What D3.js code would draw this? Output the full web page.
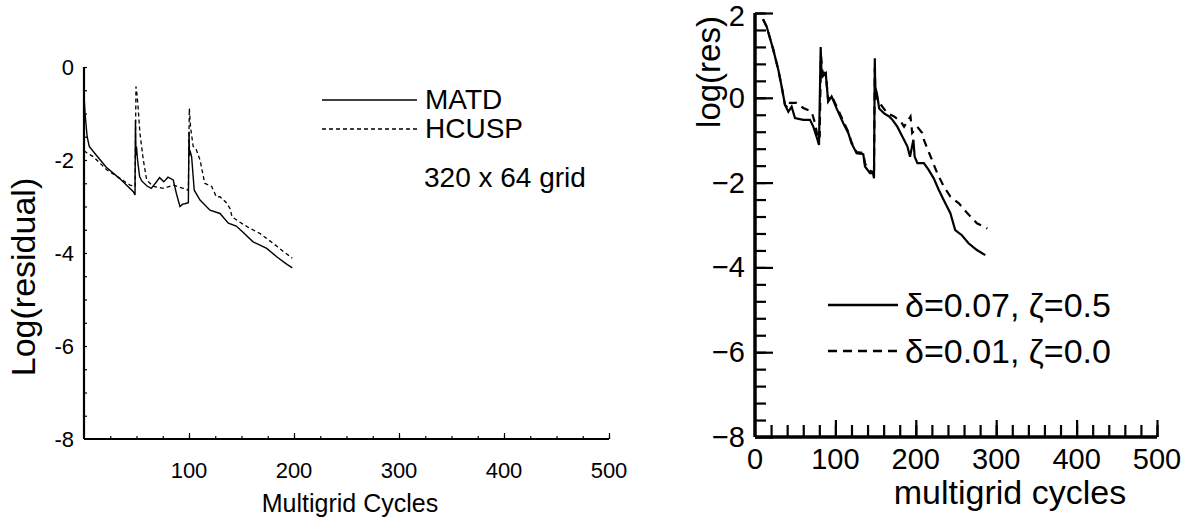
<!DOCTYPE html>
<html>
<head>
<meta charset="utf-8">
<script src="https://cdn.jsdelivr.net/npm/d3@7"></script>
<style>
  body { margin: 0; background: #fff; }
  svg { display: block; }
  text { font-family: "Liberation Sans", Arial, Helvetica, sans-serif; fill: #000; }
</style>
</head>
<body>
<div id="chart"></div>
<script>
// left panel: MATD vs HCUSP, 320 x 64 grid
var matdCycles = [0, 1, 3, 5, 10, 21, 34, 47, 48.6, 49, 49.5, 50, 51, 53, 55, 60, 64, 68, 72, 76, 80, 85, 88, 91.4, 94, 96, 99.4, 100, 100.5, 101, 102.5, 105, 110.5, 120, 129.5, 137.5, 145, 151.7, 161, 174, 183.5, 193, 198.4];
var matdRes = [-0.6, -1.0, -1.5, -1.71, -1.85, -2.15, -2.4, -2.68, -2.75, -1.14, -1.9, -1.71, -2.0, -2.36, -2.45, -2.56, -2.61, -2.5, -2.38, -2.47, -2.37, -2.43, -2.72, -3.0, -2.95, -2.94, -2.92, -1.39, -1.9, -1.8, -1.93, -2.65, -2.86, -3.08, -3.15, -3.36, -3.42, -3.56, -3.76, -3.9, -4.08, -4.24, -4.32];

var hcuspCycles = [0, 3, 9, 21.6, 34, 43.8, 48.6, 49.5, 50.5, 51.7, 53.3, 56.5, 59.7, 66, 75.5, 85, 94.6, 99.4, 100.3, 101.5, 104, 107, 110.5, 115, 121.6, 126, 129.5, 133, 136, 139, 141, 148.6, 158, 167.6, 180, 190, 198.4];
var hcuspRes = [-1.8, -1.85, -1.93, -2.21, -2.39, -2.54, -2.57, -0.42, -0.6, -0.92, -1.43, -2.0, -2.43, -2.57, -2.61, -2.54, -2.61, -2.65, -0.89, -1.3, -1.71, -1.78, -2.0, -2.5, -2.57, -2.79, -2.79, -2.86, -2.93, -3.04, -3.22, -3.34, -3.47, -3.58, -3.79, -3.97, -4.11];

var leftXTicks = [100, 200, 300, 400, 500];
var leftYTicks = [0, -2, -4, -6, -8];
var leftLegend = ["MATD", "HCUSP"];
var leftNote = "320 x 64 grid";

// right panel: two (delta, zeta) settings
var solidCycles = [10, 14.5, 22.8, 29, 33.2, 37.3, 41.5, 45.6, 49.7, 60, 68.4, 72.5, 76.6, 79.6, 81.7, 82.5, 84, 88, 91, 95.3, 101.5, 109.8, 116, 120, 126.4, 134.7, 136.8, 143, 147, 148, 149, 149.5, 152.3, 154.4, 160.6, 166.8, 171, 177, 183.4, 189.6, 192.8, 197, 198.6, 202, 210, 216, 222.3, 228.5, 234.7, 243, 249, 257.3, 265.6, 276, 286.4];
var solidRes = [1.85, 1.68, 1.13, 0.66, 0.26, -0.17, -0.33, -0.21, -0.48, -0.52, -0.52, -0.68, -0.92, -1.11, 1.2, 0.7, 0.5, 0.58, -0.09, 0.03, -0.25, -0.6, -0.83, -1.07, -1.31, -1.33, -1.62, -1.78, -1.78, -1.9, 0.93, 0.27, 0.03, -0.25, -0.37, -0.44, -0.52, -0.68, -0.92, -1.15, -1.39, -0.99, -1.39, -1.54, -1.54, -1.7, -1.9, -2.17, -2.41, -2.72, -3.12, -3.24, -3.43, -3.59, -3.71];

var dashedCycles = [10, 14.5, 22.8, 29, 33.2, 37.3, 41.5, 43.5, 51.8, 60, 70.5, 74.6, 78.8, 80.5, 82, 84, 88, 91, 95.3, 101.5, 109.8, 116, 120, 126.4, 134.7, 136.8, 143, 147, 148, 149, 149.5, 152, 164.8, 173, 181.3, 185.4, 193.4, 195.5, 201.8, 208, 210, 218.5, 226.7, 235, 243, 253.6, 264, 276, 289];
var dashedRes = [1.85, 1.68, 1.13, 0.66, 0.26, -0.17, -0.25, -0.12, -0.12, -0.24, -0.33, -0.6, -1.0, -0.9, 1.0, 0.6, 0.58, -0.05, 0.05, -0.2, -0.55, -0.8, -1.05, -1.28, -1.3, -1.55, -1.72, -1.75, -1.85, 0.7, 0.3, -0.05, -0.37, -0.44, -0.56, -0.68, -0.44, -0.83, -0.68, -0.83, -0.99, -1.39, -1.78, -2.1, -2.33, -2.49, -2.72, -2.96, -3.08];

var rightXTicks = [0, 100, 200, 300, 400, 500];
var rightYTicks = [2, 0, -2, -4, -6, -8];
var rightLegend = ["\u03b4=0.07, \u03b6=0.5", "\u03b4=0.01, \u03b6=0.0"];

function zip(xs, ys) {
  return xs.map(function(x, i) { return [x, ys[i]]; });
}

var svg = d3.select("#chart").append("svg")
    .attr("width", 1204)
    .attr("height", 521);

// ---------- left panel ----------
var lx = d3.scaleLinear().domain([0, 500]).range([84, 609]);
var ly = d3.scaleLinear().domain([-8, 0]).range([439, 67]);

var left = svg.append("g");

// minor ticks every 25 cycles / 0.5 decades, pointing inward
left.append("g")
    .attr("transform", "translate(0," + ly(-8) + ")")
    .call(d3.axisTop(lx).tickValues(d3.range(25, 501, 25)).tickSize(3).tickFormat(""))
    .call(function(g) { g.select(".domain").remove(); });
left.append("g")
    .attr("transform", "translate(0," + ly(-8) + ")")
    .call(d3.axisTop(lx).tickValues(leftXTicks).tickSize(6).tickFormat(""))
    .call(function(g) { g.select(".domain").remove(); });
left.append("g")
    .attr("transform", "translate(" + lx(0) + ",0)")
    .call(d3.axisRight(ly).tickValues(d3.range(-7.5, 0.01, 0.5)).tickSize(3).tickFormat(""))
    .call(function(g) { g.select(".domain").remove(); });
left.selectAll(".tick line").attr("stroke-width", 1.2);

left.append("line")
    .attr("x1", lx(0)).attr("x2", lx(500))
    .attr("y1", ly(-8)).attr("y2", ly(-8))
    .attr("stroke", "#000").attr("stroke-width", 2.2);
left.append("line")
    .attr("x1", lx(0)).attr("x2", lx(0))
    .attr("y1", ly(0)).attr("y2", ly(-8))
    .attr("stroke", "#000").attr("stroke-width", 2.2);

left.selectAll(".xlab").data(leftXTicks).enter().append("text")
    .attr("x", function(d) { return lx(d); })
    .attr("y", 478)
    .attr("text-anchor", "middle")
    .style("font-size", "22px")
    .text(function(d) { return d; });

left.selectAll(".ylab").data(leftYTicks).enter().append("text")
    .attr("x", 74)
    .attr("y", function(d) { return ly(d) + 8; })
    .attr("text-anchor", "end")
    .style("font-size", "22px")
    .text(function(d) { return d; });

left.append("text")
    .attr("x", 350)
    .attr("y", 512)
    .attr("text-anchor", "middle")
    .style("font-size", "25px")
    .text("Multigrid Cycles");

left.append("text")
    .attr("transform", "translate(35,277) rotate(-90)")
    .attr("text-anchor", "middle")
    .style("font-size", "34px")
    .text("Log(residual)");

var lline = d3.line()
    .x(function(d) { return lx(d[0]); })
    .y(function(d) { return ly(d[1]); });

left.append("path")
    .datum(zip(hcuspCycles, hcuspRes))
    .attr("d", lline)
    .attr("fill", "none").attr("stroke", "#000")
    .attr("stroke-width", 1.3).attr("stroke-dasharray", "4,3");
left.append("path")
    .datum(zip(matdCycles, matdRes))
    .attr("d", lline)
    .attr("fill", "none").attr("stroke", "#000")
    .attr("stroke-width", 1.4);

// legend
var lLeg = left.selectAll(".lleg").data(leftLegend).enter().append("g")
    .attr("transform", function(d, i) { return "translate(322," + (100 + i * 29) + ")"; });
lLeg.append("line")
    .attr("x1", 0).attr("x2", 95)
    .attr("stroke", "#000").attr("stroke-width", 1.3)
    .attr("stroke-dasharray", function(d, i) { return i ? "4,3" : null; });
lLeg.append("text")
    .attr("x", 103).attr("y", 9)
    .style("font-size", "28px")
    .text(function(d) { return d; });
left.append("text")
    .attr("x", 424).attr("y", 187)
    .style("font-size", "28px")
    .text(leftNote);

// ---------- right panel ----------
var rx = d3.scaleLinear().domain([0, 500]).range([755, 1157]);
var ry = d3.scaleLinear().domain([-8, 2]).range([437, 13]);

var right = svg.append("g");

right.append("g")
    .attr("transform", "translate(0," + ry(-8) + ")")
    .call(d3.axisTop(rx).tickValues(d3.range(20, 501, 20)).tickSize(12).tickFormat(""))
    .call(function(g) { g.select(".domain").remove(); });
right.append("g")
    .attr("transform", "translate(0," + ry(-8) + ")")
    .call(d3.axisTop(rx).tickValues([100, 200, 300, 400, 500]).tickSize(17).tickFormat(""))
    .call(function(g) { g.select(".domain").remove(); });
right.append("g")
    .attr("transform", "translate(" + rx(0) + ",0)")
    .call(d3.axisRight(ry).tickValues(d3.range(-7.6, 2.01, 0.4)).tickSize(11).tickFormat(""))
    .call(function(g) { g.select(".domain").remove(); });
right.append("g")
    .attr("transform", "translate(" + rx(0) + ",0)")
    .call(d3.axisRight(ry).tickValues(rightYTicks).tickSize(18).tickFormat(""))
    .call(function(g) { g.select(".domain").remove(); });
right.selectAll(".tick line").attr("stroke-width", 2.2);

right.append("line")
    .attr("x1", rx(0)).attr("x2", rx(500))
    .attr("y1", ry(-8)).attr("y2", ry(-8))
    .attr("stroke", "#000").attr("stroke-width", 3.5);
right.append("line")
    .attr("x1", rx(0)).attr("x2", rx(0))
    .attr("y1", ry(2)).attr("y2", ry(-8))
    .attr("stroke", "#000").attr("stroke-width", 3.5);

right.selectAll(".xlab").data(rightXTicks).enter().append("text")
    .attr("x", function(d) { return rx(d); })
    .attr("y", 469)
    .attr("text-anchor", "middle")
    .style("font-size", "29px")
    .text(function(d) { return d; });

right.selectAll(".ylab").data(rightYTicks).enter().append("text")
    .attr("x", 745)
    .attr("y", function(d) { return Math.max(ry(d) + 10, 26); })
    .attr("text-anchor", "end")
    .style("font-size", "29px")
    .text(function(d) { return d < 0 ? "\u2212" + (-d) : d; });

right.append("text")
    .attr("x", 1010)
    .attr("y", 504)
    .attr("text-anchor", "middle")
    .style("font-size", "34px")
    .text("multigrid cycles");

right.append("text")
    .attr("transform", "translate(720,72) rotate(-90)")
    .attr("text-anchor", "middle")
    .style("font-size", "33px")
    .text("log(res)");

var rline = d3.line()
    .x(function(d) { return rx(d[0]); })
    .y(function(d) { return ry(d[1]); });

right.append("path")
    .datum(zip(dashedCycles, dashedRes))
    .attr("d", rline)
    .attr("fill", "none").attr("stroke", "#000")
    .attr("stroke-width", 2.2).attr("stroke-dasharray", "8,6");
right.append("path")
    .datum(zip(solidCycles, solidRes))
    .attr("d", rline)
    .attr("fill", "none").attr("stroke", "#000")
    .attr("stroke-width", 2.2);

var rLeg = right.selectAll(".rleg").data(rightLegend).enter().append("g")
    .attr("transform", function(d, i) { return "translate(828," + (305 + i * 46) + ")"; });
rLeg.append("line")
    .attr("x1", 0).attr("x2", 70)
    .attr("stroke", "#000").attr("stroke-width", 2.4)
    .attr("stroke-dasharray", function(d, i) { return i ? "9,6" : null; });
rLeg.append("text")
    .attr("x", 77).attr("y", 12)
    .style("font-size", "34px")
    .text(function(d) { return d; });
</script>
</body>
</html>
